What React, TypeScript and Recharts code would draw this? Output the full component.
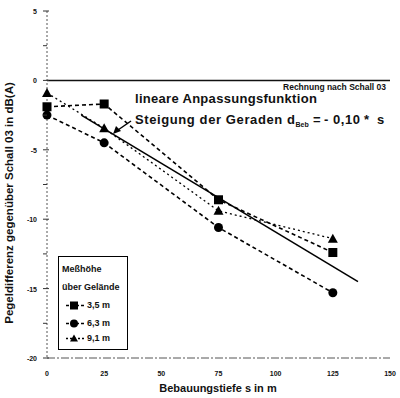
import React from 'react';
import { ComposedChart, Line, XAxis, YAxis, ReferenceLine, Legend } from 'recharts';

const depths = [0, 25, 75, 125];
const h35 = [-1.9, -1.7, -8.6, -12.4];
const h63 = [-2.5, -4.5, -10.6, -15.3];
const h91 = [-0.9, -3.45, -9.4, -11.4];
const fitX = [15, 136];
const fitY = [-2.5, -14.5];
const xTicks = [0, 25, 50, 75, 100, 125, 150];
const yTicks = [5, 2.5, 0, -2.5, -5, -7.5, -10, -12.5, -15, -17.5, -20];
const seriesNames = ['3,5 m', '6,3 m', '9,1 m'];

const data = depths.map((s, i) => ({ s, a: h35[i], b: h63[i], c: h91[i] }));
const fitData = fitX.map((s, i) => ({ s, f: fitY[i] }));

const FONT = '"Liberation Sans", Arial, sans-serif';

const Square = (p: any) => {
  const { cx, cy } = p;
  if (cx == null || cy == null) return null;
  return <rect key={`sq${cx}`} x={cx - 4.5} y={cy - 4.5} width={9} height={9} fill="#000" />;
};
const Circle = (p: any) => {
  const { cx, cy } = p;
  if (cx == null || cy == null) return null;
  return <circle key={`ci${cx}`} cx={cx} cy={cy} r={4.5} fill="#000" />;
};
const Tri = (p: any) => {
  const { cx, cy } = p;
  if (cx == null || cy == null) return null;
  return <polygon key={`tr${cx}`} points={`${cx},${cy - 5} ${cx - 5},${cy + 4} ${cx + 5},${cy + 4}`} fill="#000" />;
};

const YTick = (p: any) => {
  const { x, y, payload } = p;
  const v = payload.value;
  const major = v % 5 === 0;
  return (
    <g>
      <line x1={x + 4} x2={x + (major ? 10 : 8)} y1={y} y2={y} stroke="#333" strokeWidth={1} />
      {major && (
        <text x={x - 2} y={y} dy={3} textAnchor="end" fontSize={7} fontWeight="bold" fontFamily={FONT} fill="#111">
          {v}
        </text>
      )}
    </g>
  );
};

const LegendBox = () => {
  const icons = [
    (x: number, y: number) => <rect x={x - 4} y={y - 4} width={8} height={8} fill="#000" />,
    (x: number, y: number) => <circle cx={x} cy={y} r={4} fill="#000" />,
    (x: number, y: number) => <polygon points={`${x},${y - 4} ${x - 4},${y + 3} ${x + 4},${y + 3}`} fill="#000" />,
  ];
  return (
    <div style={{ width: 68, height: 92, border: '1.5px solid #000', background: '#fff', fontFamily: FONT, fontWeight: 'bold', fontSize: 9, color: '#111', boxSizing: 'content-box' }}>
      <div style={{ position: 'relative' }}>
        <div style={{ position: 'absolute', left: 3, top: 7 }}>Meßhöhe</div>
        <div style={{ position: 'absolute', left: 3, top: 25 }}>über Gelände</div>
        {seriesNames.map((n, i) => (
          <div key={n} style={{ position: 'absolute', left: 0, top: 43 + [0, 18, 33][i], height: 11, width: 68 }}>
            <svg width={24} height={11} style={{ position: 'absolute', left: 5, top: 0 }}>
              <line x1={2} x2={20} y1={5.5} y2={5.5} stroke="#000" strokeWidth={1.5} strokeDasharray={i === 2 ? '2 2' : '3 2'} />
              {icons[i](10, 5.5)}
            </svg>
            <span style={{ position: 'absolute', left: 28, top: 0 }}>{n}</span>
          </div>
        ))}
      </div>
    </div>
  );
};

export default function App() {
  return (
    <div style={{ position: 'absolute', left: 0, top: 0, width: 400, height: 398, background: '#fff' }}>
      <ComposedChart width={400} height={398} data={data} margin={{ top: 11, right: 10, left: 0, bottom: 0 }}>
        <XAxis
          dataKey="s"
          type="number"
          domain={[0, 150]}
          ticks={xTicks}
          height={40}
          axisLine={{ stroke: '#555', strokeWidth: 1, strokeDasharray: '8 2 2 2' }}
          tickLine={false}
          tickMargin={7}
          tick={{ fontSize: 7, fontWeight: 'bold', fontFamily: FONT, fill: '#111' }}
        />
        <YAxis
          type="number"
          domain={[-20, 5]}
          ticks={yTicks}
          width={47}
          interval={0}
          axisLine={{ stroke: '#555', strokeWidth: 1, strokeDasharray: '2 2' }}
          tickLine={false}
          tick={<YTick />}
        />
        <ReferenceLine
          y={0}
          stroke="#111"
          strokeWidth={1.5}
          label={{ value: 'Rechnung nach Schall 03', position: 'insideTopRight', fontSize: 8.5, fontWeight: 'bold', fontFamily: FONT, fill: '#111', offset: 4 }}
        />
        <Legend
          layout="horizontal"
          verticalAlign="middle"
          align="center"
          content={<LegendBox />}
          wrapperStyle={{ position: 'absolute', left: 58, top: 256, width: 72, height: 96 }}
        />
        <Line dataKey="a" name={seriesNames[0]} stroke="#000" strokeWidth={1.6} strokeDasharray="4 3" dot={<Square />} isAnimationActive={false} legendType="square" />
        <Line dataKey="b" name={seriesNames[1]} stroke="#000" strokeWidth={1.6} strokeDasharray="4 3" dot={<Circle />} isAnimationActive={false} legendType="circle" />
        <Line dataKey="c" name={seriesNames[2]} stroke="#000" strokeWidth={1.3} strokeDasharray="2 3" dot={<Tri />} isAnimationActive={false} legendType="triangle" />
        <Line data={fitData} dataKey="f" stroke="#000" strokeWidth={1.6} dot={false} isAnimationActive={false} legendType="none" />
      </ComposedChart>
      <svg width={400} height={398} style={{ position: 'absolute', left: 0, top: 0, pointerEvents: 'none' }}>
        <text x={135} y={103} fontSize={13} letterSpacing={0.3} fontWeight="bold" fontFamily={FONT} fill="#111">lineare Anpassungsfunktion</text>
        <text x={135} y={124} fontSize={13} letterSpacing={0.6} fontWeight="bold" fontFamily={FONT} fill="#111">
          Steigung der Geraden d
          <tspan fontSize={7} dy={3} letterSpacing={0}>Beb</tspan>
          <tspan dy={-3} x={313}>=</tspan>
          <tspan x={324}>-</tspan>
          <tspan x={333}>0,10</tspan>
          <tspan x={364}>*</tspan>
          <tspan x={377}>s</tspan>
        </text>
        <line x1={131} y1={121} x2={118} y2={130} stroke="#000" strokeWidth={1.5} />
        <polygon points="113,134 116,126 121,131" fill="#000" />
        <text transform="translate(13,203) rotate(-90)" textAnchor="middle" fontSize={11.5} fontWeight="bold" fontFamily={FONT} fill="#111">
          Pegeldifferenz gegenüber Schall 03 in dB(A)
        </text>
        <text x={218} y={392} textAnchor="middle" fontSize={11} fontWeight="bold" fontFamily={FONT} fill="#111">
          Bebauungstiefe s in m
        </text>
      </svg>
    </div>
  );
}
